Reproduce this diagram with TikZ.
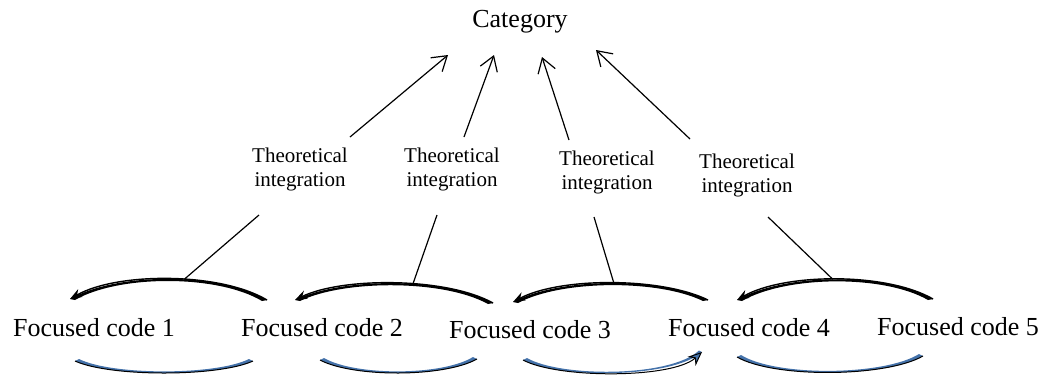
\documentclass[tikz,border=0pt]{standalone}
\usepackage{fontspec}
\setmainfont{Liberation Serif}
\usetikzlibrary{arrows.meta}
\definecolor{arcblue}{RGB}{68,114,170}
\tikzset{
  big/.style={font=\fontsize{13}{15.6}\selectfont,inner sep=0pt},
  small/.style={font=\fontsize{10.5}{12}\selectfont,align=center,inner sep=0pt},
  up/.style={line width=0.6pt,-{Straight Barb[length=7pt,width=9pt]}},
  link/.style={line width=0.6pt},
  back/.style={line width=0.7pt,-{Stealth[length=6pt,width=4.5pt]}},
  backfill/.style={fill=black},
  fwdfill/.style={fill=arcblue},
  fwd/.style={line width=0.5pt}
}
\begin{document}
\begin{tikzpicture}[x=0.5pt,y=-0.5pt]
\useasboundingbox (0,0) rectangle (1050,376);
\node[big] (cat) at (520,22) {Category};
\node[small] (ti1) at (300,169) {Theoretical\\integration};
\node[small] (ti2) at (452,169) {Theoretical\\integration};
\node[small] (ti3) at (607,172) {Theoretical\\integration};
\node[small] (ti4) at (747,175) {Theoretical\\integration};
\node[big] (c1) at (94,328) {Focused code 1};
\node[big] (c2) at (322,328) {Focused code 2};
\node[big] (c3) at (530,330) {Focused code 3};
\node[big] (c4) at (749,328) {Focused code 4};
\node[big] (c5) at (958,327) {Focused code 5};
\draw[up] ([shift={(50,-32)}]ti1.center) -- ([shift={(-72,33)}]cat.center);
\draw[up] ([shift={(12,-32)}]ti2.center) -- ([shift={(-26,33)}]cat.center);
\draw[up] ([shift={(-38,-32)}]ti3.center) -- ([shift={(22,35)}]cat.center);
\draw[up] ([shift={(-57,-36)}]ti4.center) -- ([shift={(76,28)}]cat.center);
\fill[backfill] ([shift={(-55,-28)}]c2.center) .. controls +(-47,-28) and +(47,-27) .. ([shift={(-24,-29)}]c1.center) -- ([shift={(-19,-28)}]c1.center) .. controls +(44,-25.5) and +(-44,-26.5) .. ([shift={(-60,-27)}]c2.center) -- cycle;
\draw[back] ([shift={(-55,-28)}]c2.center) .. controls +(-47,-28) and +(47,-27) .. ([shift={(-24,-29)}]c1.center) coordinate[pos=0.43] (t1);
\fill[backfill] ([shift={(-37,-27)}]c3.center) .. controls +(-47,-26) and +(47,-23) .. ([shift={(-27,-28)}]c2.center) -- ([shift={(-22,-27)}]c2.center) .. controls +(44,-21.5) and +(-44,-24.5) .. ([shift={(-42,-26)}]c3.center) -- cycle;
\draw[back] ([shift={(-37,-27)}]c3.center) .. controls +(-47,-26) and +(47,-23) .. ([shift={(-27,-28)}]c2.center) coordinate[pos=0.416] (t2);
\fill[backfill] ([shift={(-41,-28)}]c4.center) .. controls +(-47,-23) and +(47,-25) .. ([shift={(-17,-28)}]c3.center) -- ([shift={(-12,-27)}]c3.center) .. controls +(44,-23.5) and +(-44,-21.5) .. ([shift={(-46,-27)}]c4.center) -- cycle;
\draw[back] ([shift={(-41,-28)}]c4.center) .. controls +(-47,-23) and +(47,-25) .. ([shift={(-17,-28)}]c3.center) coordinate[pos=0.485] (t3);
\fill[backfill] ([shift={(-25,-28)}]c5.center) .. controls +(-47,-27) and +(47,-27) .. ([shift={(-12,-28)}]c4.center) -- ([shift={(-7,-27)}]c4.center) .. controls +(44,-25.5) and +(-44,-25.5) .. ([shift={(-30,-27)}]c5.center) -- cycle;
\draw[back] ([shift={(-25,-28)}]c5.center) .. controls +(-47,-27) and +(47,-27) .. ([shift={(-12,-28)}]c4.center) coordinate[pos=0.51] (t4);
\draw[link] ([shift={(-41,46)}]ti1.center) -- (t1);
\draw[link] ([shift={(-15,46)}]ti2.center) -- (t2);
\draw[link] ([shift={(-13,45)}]ti3.center) -- (t3);
\draw[link] ([shift={(21,42)}]ti4.center) -- (t4);
\fill[fwdfill] ([shift={(-19,33)}]c1.center) .. controls +(35,16) and +(-35,16) .. ([shift={(-69,33)}]c2.center) -- ([shift={(-73,31)}]c2.center) .. controls +(-33,16.5) and +(33,16.5) .. ([shift={(-15,31)}]c1.center) -- cycle;
\draw[fwd] ([shift={(-19,33)}]c1.center) .. controls +(35,16) and +(-35,16) .. ([shift={(-69,33)}]c2.center);
\fill[fwdfill] ([shift={(-2,32)}]c2.center) .. controls +(33,17.5) and +(-33,18.5) .. ([shift={(-53,29)}]c3.center) -- ([shift={(-57,27)}]c3.center) .. controls +(-31,19) and +(31,18) .. ([shift={(2,30)}]c2.center) -- cycle;
\draw[fwd] ([shift={(-2,32)}]c2.center) .. controls +(33,17.5) and +(-33,18.5) .. ([shift={(-53,29)}]c3.center);
\fill[fwdfill] ([shift={(-7,30)}]c3.center) .. controls +(35,18.7) and +(-30,26.7) .. ([shift={(-47,24)}]c4.center) -- ([shift={(-50,22.5)}]c4.center) .. controls +(-29,27.2) and +(33,19.2) .. ([shift={(-3,28)}]c3.center) -- cycle;
\draw[fwd,-{Stealth[length=7pt,width=6pt,fill=arcblue]}] ([shift={(-7,30)}]c3.center) .. controls +(35,18.7) and +(-30,26.7) .. ([shift={(-47,24)}]c4.center);
\fill[fwdfill] ([shift={(-12,29)}]c4.center) .. controls +(37,21.3) and +(-37,21.3) .. ([shift={(-35,29)}]c5.center) -- ([shift={(-39,27)}]c5.center) .. controls +(-35,21.8) and +(35,21.8) .. ([shift={(-8,27)}]c4.center) -- cycle;
\draw[fwd] ([shift={(-12,29)}]c4.center) .. controls +(37,21.3) and +(-37,21.3) .. ([shift={(-35,29)}]c5.center);
\end{tikzpicture}
\end{document}
